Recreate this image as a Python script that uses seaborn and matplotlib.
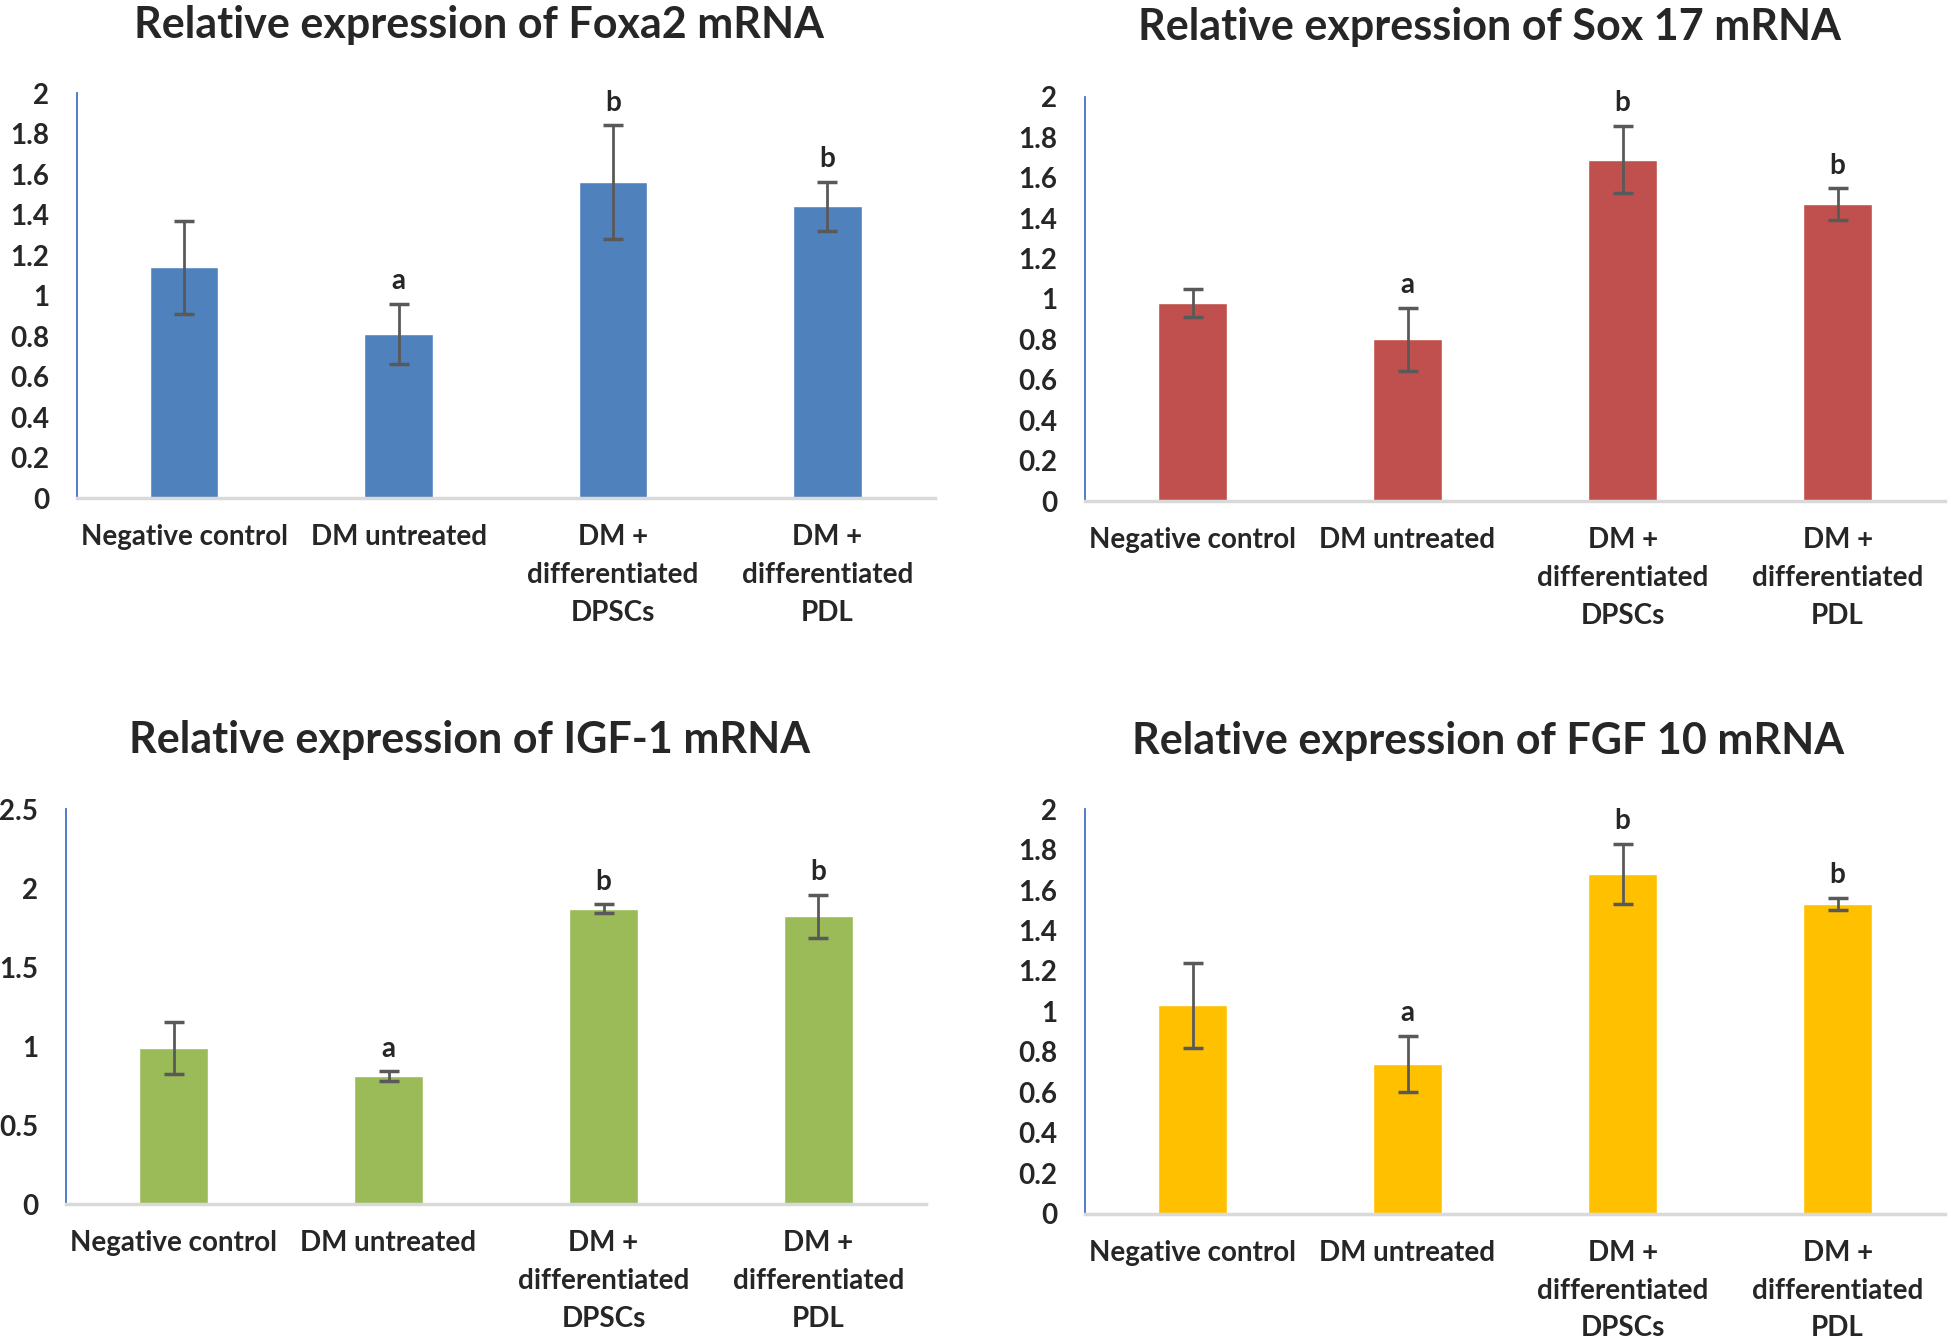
import matplotlib
matplotlib.use("Agg")
import matplotlib.pyplot as plt
import pandas as pd
import seaborn as sns

# groups on the x axis
groups = ["Negative control", "DM untreated",
          "DM +\ndifferentiated\nDPSCs", "DM +\ndifferentiated\nPDL"]

# mean relative expression per gene
foxa2 = [1.14, 0.81, 1.56, 1.44]
sox17 = [0.98, 0.80, 1.69, 1.47]
igf1 = [0.99, 0.81, 1.87, 1.82]
fgf10 = [1.03, 0.74, 1.68, 1.53]

# error bars (+/-)
foxa2_err = [0.23, 0.15, 0.28, 0.12]
sox17_err = [0.07, 0.155, 0.167, 0.078]
igf1_err = [0.165, 0.03, 0.027, 0.139]
fgf10_err = [0.21, 0.138, 0.149, 0.031]

# significance letters
letters = ["", "a", "b", "b"]

titles = ["Relative expression of Foxa2 mRNA", "Relative expression of Sox 17 mRNA",
          "Relative expression of IGF-1 mRNA", "Relative expression of FGF 10 mRNA"]
ymax = [2, 2, 2.5, 2]
ysteps = [0.2, 0.2, 0.5, 0.2]
colors = ["#4F81BD", "#C0504D", "#9BBB59", "#FFC000"]

sns.set_style("white")
plt.rcParams['font.family'] = ['Lato', 'DejaVu Sans']
plt.rcParams['font.weight'] = 'bold'

fig = plt.figure(figsize=(19.49, 13.39), dpi=100)

# axes boxes [left, bottom, width, height] and title centres
boxes = [[0.0395, 0.628, 0.440, 0.3025],
         [0.5567, 0.6258, 0.4413, 0.3018],
         [0.0339, 0.1008, 0.4412, 0.295],
         [0.5567, 0.0934, 0.4413, 0.3024]]
title_pos = [(0.246, 0.981), (0.764, 0.980), (0.241, 0.4473), (0.7635, 0.4466)]

values = [foxa2, sox17, igf1, fgf10]
errs = [foxa2_err, sox17_err, igf1_err, fgf10_err]

for i in range(4):
    ax = fig.add_axes(boxes[i])
    df = pd.DataFrame({"group": groups, "value": values[i], "err": errs[i]})
    sns.barplot(data=df, x="group", y="value", color=colors[i], width=0.32,
                errorbar=None, saturation=1, ax=ax)
    ax.errorbar(range(4), df["value"], yerr=df["err"], fmt="none",
                ecolor="#595959", elinewidth=2, capsize=7, capthick=2.5)
    for j in range(4):
        if letters[j]:
            ax.annotate(letters[j], (j, df["value"][j] + df["err"][j]),
                        xytext=(0, 7), textcoords="offset points",
                        ha="center", va="bottom", fontsize=20,
                        fontweight="bold", annotation_clip=False)
    ax.set_xlim(-0.5, 3.5)
    ax.set_ylim(0, ymax[i])
    ticks = [round(k * ysteps[i], 2) for k in range(int(round(ymax[i] / ysteps[i])) + 1)]
    ax.set_yticks(ticks)
    ax.set_yticklabels([f"{t:g}" for t in ticks])
    ax.set_xlabel("")
    ax.set_ylabel("")
    for s in ["top", "right"]:
        ax.spines[s].set_visible(False)
    ax.spines["left"].set_color("#4472C4")
    ax.spines["left"].set_linewidth(1.3)
    ax.spines["bottom"].set_color("#D9D9D9")
    ax.spines["bottom"].set_linewidth(2.5)
    ax.tick_params(axis="y", length=0, pad=20, labelsize=20)
    ax.tick_params(axis="x", length=0, pad=19, labelsize=20)
    for lab in ax.get_xticklabels():
        lab.set_linespacing(1.55)
        lab.set_va("top")
    fig.text(title_pos[i][0], title_pos[i][1], titles[i], ha="center", va="center",
             fontsize=31, fontweight="bold")

plt.savefig("out.png", dpi=100)
